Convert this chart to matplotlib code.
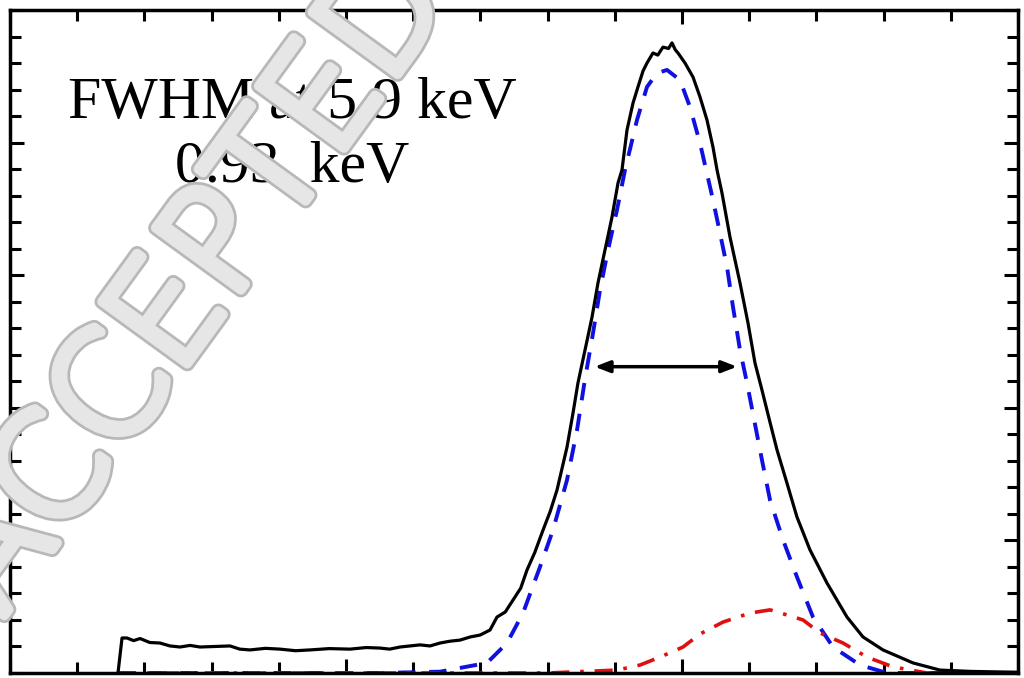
import numpy as np
import matplotlib.pyplot as plt
from matplotlib.ticker import MultipleLocator
import matplotlib.patheffects as pe

spec_x = [1.607, 1.667, 1.741, 1.84, 1.935, 2.08, 2.232, 2.38, 2.530, 2.68, 2.827, 3.05, 3.274,
          3.42, 3.571, 3.80, 4.018, 4.25, 4.464, 4.75, 5.060, 5.30, 5.506, 5.65, 5.804, 6.101,
          6.25, 6.399, 6.55, 6.696, 6.85, 6.994, 7.143, 7.247, 7.37, 7.485, 7.60, 7.693, 7.81,
          7.932, 8.04, 8.140, 8.289, 8.378, 8.452, 8.557, 8.661, 8.750, 8.854, 8.958, 9.048,
          9.107, 9.182, 9.271, 9.345, 9.42, 9.479, 9.568, 9.64, 9.717, 9.80, 9.851, 9.90, 9.940,
          10.045, 10.164, 10.268, 10.372, 10.461, 10.521, 10.595, 10.714, 10.863, 10.982, 11.086,
          11.190, 11.30, 11.414, 11.562, 11.711, 11.905, 12.158, 12.455, 12.693, 12.991, 13.437,
          13.839, 14.3, 14.732, 15.0]
spec_y = [0.0, 1.32, 1.32, 1.22, 1.30, 1.15, 1.13, 1.02, 0.98, 1.04, 0.98, 1.00, 1.02,
          0.90, 0.87, 0.93, 0.90, 0.84, 0.87, 0.92, 0.90, 0.96, 0.94, 0.90, 0.98, 1.06,
          1.02, 1.13, 1.20, 1.24, 1.36, 1.43, 1.62, 2.11, 2.30, 2.75, 3.20, 3.88, 4.55,
          5.39, 6.10, 6.90, 8.52, 9.80, 10.94, 12.18, 13.42, 14.71, 15.95, 17.19, 18.48,
          18.97, 20.48, 21.49, 22.10, 22.70, 23.00, 23.38, 23.30, 23.60, 23.55, 23.76, 23.50, 23.38,
          23.00, 22.47, 21.72, 20.85, 19.83, 18.97, 18.10, 16.44, 14.71, 13.20, 11.69,
          10.67, 9.55, 8.41, 7.16, 5.88, 4.64, 3.39, 2.11, 1.36, 0.87, 0.38,
          0.11, 0.06, 0.04, 0.03]

# main peak fit (blue dashed)
main_x = [1.607, 5.5, 6.399, 7.098, 7.396, 7.634, 7.887, 8.080, 8.289, 8.438, 8.557, 8.676,
          8.780, 8.899, 9.033, 9.152, 9.330, 9.479, 9.628, 9.777, 9.970, 10.119, 10.268,
          10.461, 10.565, 10.670, 10.759, 10.863, 10.967, 11.190, 11.310, 11.503, 11.711,
          11.949, 12.247, 12.649, 13.051, 15.0]
main_y = [0.0, 0.0, 0.05, 0.38, 1.13, 2.26, 4.00, 5.39, 7.28, 9.16, 11.09, 12.82,
          14.44, 15.95, 17.46, 18.97, 20.85, 22.10, 22.62, 22.74, 22.36, 21.34, 19.98,
          17.84, 16.59, 15.31, 13.80, 12.18, 10.94, 8.03, 6.52, 5.02, 3.62,
          2.11, 0.98, 0.30, 0.0, 0.0]

# secondary peak fit (red dash-dot)
sec_x = [1.607, 8.0, 9.033, 9.375, 9.673, 10.015, 10.268, 10.610, 11.012, 11.310, 11.562,
         11.801, 12.054, 12.396, 12.753, 13.140, 13.646, 15.0]
sec_y = [0.0, 0.0, 0.11, 0.30, 0.60, 0.98, 1.47, 1.92, 2.26, 2.38, 2.19,
         2.00, 1.51, 1.13, 0.60, 0.23, 0.0, 0.0]

fwhm_left, fwhm_right, fwhm_level = 8.70, 10.82, 11.55

plt.rcParams['font.family'] = ['Liberation Serif', 'DejaVu Serif']

fig = plt.figure(figsize=(10.24, 6.78), dpi=100)
ax = fig.add_axes([10 / 1024, 5 / 678, 1008 / 1024, 663 / 678])

ax.plot(main_x, main_y, color='#1010e0', lw=2.8, dashes=(4.5, 3.5))
ax.plot(sec_x, sec_y, color='#e01010', lw=2.6, dashes=(5, 3, 1, 3))
ax.plot(spec_x, spec_y, color='black', lw=2.3)

ax.annotate('', xy=(fwhm_left, fwhm_level), xytext=(fwhm_right, fwhm_level),
            arrowprops=dict(arrowstyle='<|-|>,head_length=0.9,head_width=0.35',
                            color='black', lw=2.5, shrinkA=0, shrinkB=0))

ax.text(0.28, 0.81, 'FWHM at 5.9 keV\n0.93  keV', transform=ax.transAxes,
        fontsize=43, ha='center', va='center', linespacing=1.25)

ax.set_xlim(0, 15)
ax.set_ylim(0, 25)
ax.xaxis.set_major_locator(MultipleLocator(5))
ax.xaxis.set_minor_locator(MultipleLocator(1))
ax.yaxis.set_major_locator(MultipleLocator(5))
ax.yaxis.set_minor_locator(MultipleLocator(1))
ax.tick_params(which='both', direction='in', top=True, right=True,
               labelbottom=False, labelleft=False, width=2.2)
ax.tick_params(which='major', length=10)
ax.tick_params(which='minor', length=8)
for s in ax.spines.values():
    s.set_linewidth(2.5)

# "ACCEPTED" watermark
fig.text(195 / 1024, 1 - 285 / 678, 'ACCEPTED', rotation=54, fontsize=104,
         ha='center', va='center', color='#e6e6e6', family='DejaVu Sans',
         fontweight='light',
         path_effects=[pe.Stroke(linewidth=11, foreground='#b8b8b8'),
                       pe.Stroke(linewidth=7, foreground='#e6e6e6'),
                       pe.Normal()])

fig.savefig('out.png', dpi=100)
